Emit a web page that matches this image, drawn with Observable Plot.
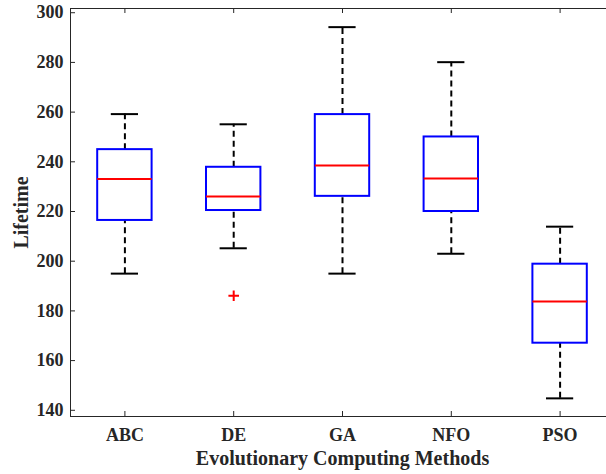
<!DOCTYPE html>
<html><head><meta charset="utf-8">
<script src="https://cdn.jsdelivr.net/npm/d3@7"></script>
<script src="https://cdn.jsdelivr.net/npm/@observablehq/plot@0.6"></script>
<style>html,body{margin:0;padding:0;overflow:hidden;background:#fff;}</style>
</head><body><div id="chart"></div>
<script>
const methods = ["ABC", "DE", "GA", "NFO", "PSO"];
const whiskerLow = [195, 205.2, 195, 203, 144.8];
const q1 = [216.4, 220.4, 226.1, 220, 167];
const median = [233.1, 226, 238.5, 233.3, 183.8];
const q3 = [244.9, 237.8, 259, 250, 198.8];
const whiskerHigh = [259.2, 255.1, 294.2, 280.1, 213.9];
const outlierMethods = ["DE"];
const outlierValues = [186.1];
const yTicks = [140, 160, 180, 200, 220, 240, 260, 280, 300];
const xLabel = "Evolutionary Computing Methods";
const yLabel = "Lifetime";

const rows = methods.map((m, i) => ({m, i: i + 1, lo: whiskerLow[i], q1: q1[i], med: median[i], q3: q3[i], hi: whiskerHigh[i]}));
const outliers = outlierValues.map((v, k) => ({i: methods.indexOf(outlierMethods[k]) + 1, v}));

const W = 606, H = 474, mL = 70, mR = -8, mT = 8, mB = 58;
const pw = W - mL - mR, ph = H - mT - mB;
const font = "'Liberation Serif', 'Times New Roman', serif";
const ink = "#262626";
const tickLen = 5;
const boxHalf = 0.25, capHalf = 0.125;

const chart = Plot.plot({
  width: W, height: H,
  marginLeft: mL, marginRight: mR, marginTop: mT, marginBottom: mB,
  style: {fontFamily: font, fontWeight: "bold", background: "white", overflow: "hidden"},
  x: {domain: [0.5, 5.5]},
  y: {domain: [137.5, 301.7]},
  marks: [
    Plot.tickY(yTicks, {y: d => d, stroke: ink, insetRight: pw - tickLen}),
    Plot.tickX(rows, {x: "i", stroke: ink, insetTop: ph - tickLen}),
    Plot.tickX(rows, {x: "i", stroke: ink, insetBottom: ph - tickLen}),
    Plot.axisY({ticks: yTicks, tickSize: 0, tickPadding: 7, fontSize: 18, color: ink, label: null, tickFormat: d => String(d)}),
    Plot.axisX({ticks: rows.map(r => r.i), tickSize: 0, tickPadding: 12, fontSize: 18, color: ink, label: null, tickFormat: d => methods[d - 1]}),
    Plot.ruleX(rows, {x: "i", y1: "q3", y2: "hi", stroke: "black", strokeWidth: 2, strokeDasharray: "6,4"}),
    Plot.ruleX(rows, {x: "i", y1: "lo", y2: "q1", stroke: "black", strokeWidth: 2, strokeDasharray: "6,4"}),
    Plot.ruleY(rows, {y: "hi", x1: r => r.i - capHalf, x2: r => r.i + capHalf, stroke: "black", strokeWidth: 2}),
    Plot.ruleY(rows, {y: "lo", x1: r => r.i - capHalf, x2: r => r.i + capHalf, stroke: "black", strokeWidth: 2}),
    Plot.rect(rows, {x1: r => r.i - boxHalf, x2: r => r.i + boxHalf, y1: "q1", y2: "q3", fill: "none", stroke: "#0000ff", strokeWidth: 2}),
    Plot.ruleY(rows, {y: "med", x1: r => r.i - boxHalf, x2: r => r.i + boxHalf, stroke: "#ff0000", strokeWidth: 2}),
    Plot.dot(outliers, {x: "i", y: "v", symbol: "plus", r: 3.5, stroke: "#ff0000", strokeWidth: 2}),
    Plot.frame({stroke: ink, strokeWidth: 1}),
    Plot.text([yLabel], {frameAnchor: "left", textAnchor: "middle", rotate: -90, dx: -49, fontSize: 20, fill: ink}),
    Plot.text([xLabel], {frameAnchor: "bottom", textAnchor: "middle", dy: 48, fontSize: 20, fill: ink})
  ]
});
document.getElementById("chart").appendChild(chart);
</script>
</body></html>
